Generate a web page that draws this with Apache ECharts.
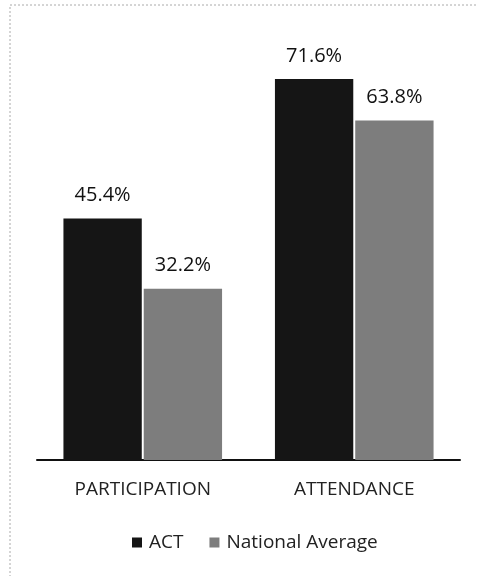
<!DOCTYPE html>
<html><head><meta charset="utf-8">
<script src="https://cdn.jsdelivr.net/npm/echarts@6/dist/echarts.min.js"></script>
<style>html,body{margin:0;padding:0;background:#fff}#c{width:477px;height:576px}</style>
</head><body><div id="c"></div>
<script>
const categories = ['PARTICIPATION', 'ATTENDANCE'];
const seriesNames = ['ACT', 'National Average'];
const actValues = [45.4, 71.6];
const nationalValues = [32.2, 63.8];

const chart = echarts.init(document.getElementById('c'), null, {renderer: 'canvas'});
const font = 'Open Sans, Lato, Liberation Sans, sans-serif';
const lbl = {show: true, position: 'top', distance: 13, formatter: p => p.value.toFixed(1) + '%', color: '#111', fontSize: 20, fontFamily: font};
chart.setOption({
  animation: false,
  graphic: [
    {type: 'rect', shape: {x: 10, y: 5, width: 480, height: 600}, style: {fill: 'none', stroke: '#aaa', lineWidth: 1, lineDash: [2, 2]}}
  ],
  grid: {left: 37, right: 17, top: 34.4, bottom: 116, containLabel: false},
  legend: {
    top: 528, left: 127, itemWidth: 10, itemHeight: 10, itemGap: 26,
    icon: 'rect',
    textStyle: {fontSize: 19, color: '#222', fontFamily: font, padding: [0, 0, 0, 2]},
    data: seriesNames
  },
  xAxis: {
    type: 'category', data: categories,
    axisLine: {lineStyle: {color: '#111', width: 2}},
    axisTick: {show: false},
    axisLabel: {fontSize: 19, color: '#222', margin: 20, fontFamily: font}
  },
  yAxis: {type: 'value', min: 0, max: 80, show: false, splitLine: {show: false}},
  series: [
    {name: seriesNames[0], type: 'bar', data: actValues, itemStyle: {color: '#151515'}, barGap: '2.5%', barCategoryGap: '25%', label: lbl},
    {name: seriesNames[1], type: 'bar', data: nationalValues, itemStyle: {color: '#7d7d7d'}, label: lbl}
  ]
});
</script></body></html>
